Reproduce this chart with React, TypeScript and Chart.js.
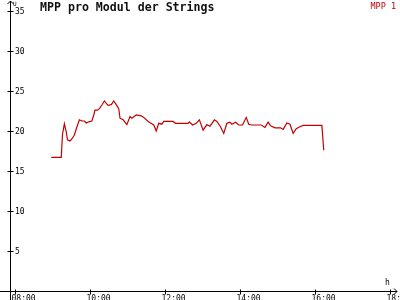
import React, { useEffect, useRef } from "react";
import { Chart, registerables } from "chart.js";

Chart.register(...registerables);

const titleText = "MPP pro Modul der Strings";
const seriesName = "MPP 1";
const yUnit = "U";
const xUnit = "h";

const times = [
  "08:58", "09:14", "09:16", "09:19", "09:22", "09:24", "09:28", "09:31", "09:35", "09:39",
  "09:43", "09:47", "09:51", "09:54", "09:58", "10:03", "10:06", "10:08", "10:12", "10:15",
  "10:19", "10:23", "10:26", "10:29", "10:34", "10:38", "10:42", "10:46", "10:48", "10:53",
  "10:59", "11:04", "11:07", "11:14", "11:22", "11:26", "11:33", "11:37", "11:42", "11:46",
  "11:50", "11:55", "11:58", "12:06", "12:13", "12:17", "12:37", "12:39", "12:44", "12:50",
  "12:55", "13:01", "13:07", "13:12", "13:19", "13:23", "13:29", "13:34", "13:39", "13:44",
  "13:47", "13:53", "13:58", "14:04", "14:10", "14:14", "14:18", "14:34", "14:40", "14:45",
  "14:49", "14:56", "15:05", "15:09", "15:15", "15:20", "15:25", "15:30", "15:35", "15:41",
  "16:11", "16:14",
];

const mppValues = [
  16.7, 16.7, 19.6, 20.9, 19.9, 18.9, 18.75, 19.0, 19.5, 20.5,
  21.4, 21.25, 21.25, 21.0, 21.15, 21.25, 22.0, 22.6, 22.6, 22.8,
  23.25, 23.75, 23.45, 23.2, 23.3, 23.75, 23.3, 22.8, 21.6, 21.4,
  20.8, 21.8, 21.6, 22.0, 21.9, 21.7, 21.2, 21.0, 20.75, 20.0,
  20.96, 20.85, 21.2, 21.2, 21.2, 20.96, 20.96, 21.15, 20.75, 20.96,
  21.4, 20.1, 20.8, 20.6, 21.4, 21.2, 20.5, 19.7, 20.96, 21.1,
  20.85, 21.1, 20.75, 20.75, 21.7, 20.85, 20.75, 20.75, 20.45, 21.1,
  20.65, 20.4, 20.4, 20.2, 21.0, 20.85, 19.7, 20.3, 20.5, 20.7,
  20.7, 17.6,
];

const xTickLabels = ["08:00", "10:00", "12:00", "14:00", "16:00", "18:00"];
const yTickValues = [5, 10, 15, 20, 25, 30, 35];

const xMin = 7.8667;
const xMax = 18.1867;
const yMin = 0;
const yMax = 35;

const lineColor = "#c40000";
const monoFont = "'DejaVu Sans Mono', 'Liberation Mono', monospace";

function toHours(s: string): number {
  const [h, m] = s.split(":").map(Number);
  return h + m / 60;
}

const axesPlugin = {
  id: "customAxes",
  afterDraw(chart: any) {
    const ctx = chart.ctx as CanvasRenderingContext2D;
    const xs = chart.scales.x;
    const ys = chart.scales.y;
    const W = chart.width;
    const H = chart.height;
    const ax = Math.round(xs.getPixelForValue(xMin)) + 0.5;
    const ay = Math.round(ys.getPixelForValue(0)) + 0.5;
    const right = W - 3;

    ctx.save();
    ctx.strokeStyle = "#000";
    ctx.lineWidth = 1;
    ctx.beginPath();
    ctx.moveTo(ax, H);
    ctx.lineTo(ax, 1);
    ctx.moveTo(ax - 3, 4);
    ctx.lineTo(ax, 1);
    ctx.lineTo(ax + 3, 4);
    ctx.moveTo(0, ay);
    ctx.lineTo(right, ay);
    ctx.moveTo(right - 3, ay - 3);
    ctx.lineTo(right, ay);
    ctx.lineTo(right - 3, ay + 3);
    for (const v of yTickValues) {
      const py = Math.round(ys.getPixelForValue(v)) + 0.5;
      ctx.moveTo(ax - 3, py);
      ctx.lineTo(ax + 3, py);
    }
    for (const lab of xTickLabels) {
      const px = Math.round(xs.getPixelForValue(toHours(lab))) + 0.5;
      ctx.moveTo(px, ay - 2);
      ctx.lineTo(px, ay + 3);
    }
    ctx.stroke();

    ctx.fillStyle = "#000";
    ctx.font = "8px " + monoFont;
    ctx.textAlign = "left";
    ctx.textBaseline = "middle";
    for (const v of yTickValues) {
      const py = ys.getPixelForValue(v);
      ctx.fillText(String(v), ax + 4.5, py + 0.5);
    }
    ctx.textBaseline = "top";
    for (const lab of xTickLabels) {
      const px = xs.getPixelForValue(toHours(lab));
      ctx.fillText(lab, px - 3.5, ay + 3.5);
    }
    ctx.font = "6px " + monoFont;
    ctx.textBaseline = "top";
    ctx.fillText(yUnit, ax + 2.5, 1);
    ctx.font = "8px " + monoFont;
    ctx.textBaseline = "alphabetic";
    ctx.fillText(xUnit, 385, ay - 7);

    ctx.font = "bold 11.6px " + monoFont;
    ctx.textBaseline = "alphabetic";
    ctx.fillStyle = "#111";
    ctx.fillText(titleText, 40, 11);

    ctx.font = "8.5px " + monoFont;
    ctx.fillStyle = lineColor;
    ctx.textAlign = "right";
    ctx.fillText(seriesName, 396, 9);
    ctx.restore();
  },
};

export default function App() {
  const canvasRef = useRef<HTMLCanvasElement | null>(null);

  useEffect(() => {
    const canvas = canvasRef.current;
    if (!canvas) return;
    const points = times.map((t, i) => ({ x: toHours(t), y: mppValues[i] }));
    const chart = new Chart(canvas, {
      type: "line",
      data: {
        datasets: [
          {
            label: seriesName,
            data: points,
            borderColor: lineColor,
            backgroundColor: lineColor,
            borderWidth: 1.2,
            pointRadius: 0,
            tension: 0,
            fill: false,
          },
        ],
      },
      options: {
        responsive: false,
        animation: false,
        devicePixelRatio: 1,
        layout: { padding: { left: 10, top: 11, right: 3, bottom: 9 } },
        plugins: {
          legend: { display: false },
          title: { display: false },
          tooltip: { enabled: false },
        },
        scales: {
          x: { type: "linear", min: xMin, max: xMax, display: false },
          y: { type: "linear", min: yMin, max: yMax, display: false },
        },
      },
      plugins: [axesPlugin],
    });
    return () => chart.destroy();
  }, []);

  return (
    <div style={{ position: "absolute", left: 0, top: 0, width: 400, height: 300, background: "#fff" }}>
      <canvas ref={canvasRef} width={400} height={300} style={{ display: "block" }} />
    </div>
  );
}
